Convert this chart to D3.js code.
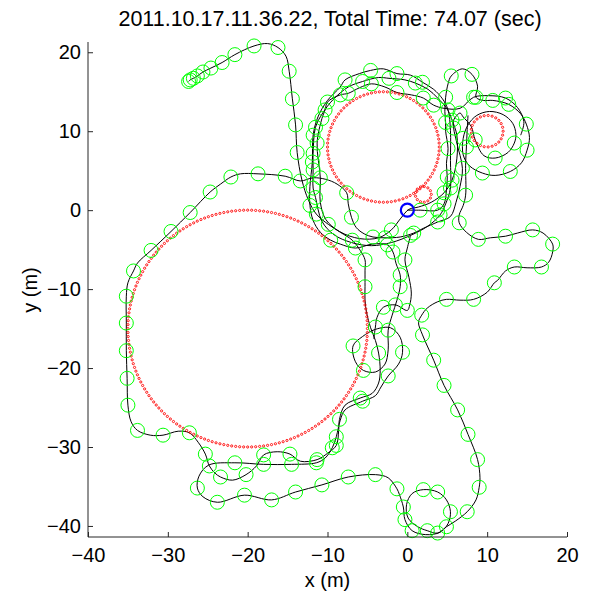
<!DOCTYPE html>
<html><head><meta charset="utf-8">
<script src="https://cdn.jsdelivr.net/npm/d3@7"></script>
<style>body{margin:0;background:#fff}svg{display:block}text{font-family:"Liberation Sans",Arial,Helvetica,sans-serif;fill:#000}</style>
</head><body>
<script>
const titleText = "2011.10.17.11.36.22, Total Time: 74.07 (sec)";
const xTicks = [-40,-30,-20,-10,0,10,20];
const yTicks = [-40,-30,-20,-10,0,10,20];
// red reference circles: [cx, cy, r]
const refCircles = [[-20,-15,15],[-3,8,7],[10,10,2],[2,2,1]];
const startPoint = [0,0];
// trajectory pieces: [x, y, marker(1 = green circle)]
const pathA = [
[0,0,0],[1.6,0,1],[3.8,0,1],[4.6,0.8,1],[4.9,2.5,0],[5.0,4.2,1],[4.9,5.9,0],[5.1,7.8,1],[4.8,10.0,0],[4.8,11.1,1],
[4.7,12.5,0],[4.8,14.3,1],[5.1,16.0,0],[5.5,17.0,1],[6.9,17.9,0],[8.1,17.2,1],[8.8,15.7,0],[8.6,14.3,1],[9.5,13.9,0],
[10.7,13.9,1],[12.7,13.4,1],[14.2,12.2,0],[14.9,10.9,1],[15.3,9.2,0],[15.0,7.6,1],[14.3,6.0,0],[12.9,4.9,1],[11.0,4.4,0],
[9.4,4.7,1],[7.8,5.6,0],[7.0,7.0,0],[7.0,9.1,1],[7.6,10.8,0],[8.7,12.0,0],[10.3,12.5,0],[12.0,12.1,0],[13.2,11.0,0],
[13.6,9.6,0],[13.4,8.5,1],[12.6,7.3,0],[11.0,6.6,1],[9.6,6.9,0],[8.5,8.9,1],[8.0,10.6,0],[7.0,11.8,0],[6.6,12.3,1],
[5.8,11.4,0],[5.8,10.4,1],[6.2,8.5,0],[6.9,5.3,1],[6.6,3.0,0],[6.1,1.0,0],[5.4,-0.8,0],[3.8,-1.5,1],[2.0,-2.3,0],
[0.8,-2.9,1],[-0.9,-3.4,0],[-2.8,-3.5,1],[-4.3,-3.4,1],[-5.4,-3.0,0],[-6.4,-2.2,0],[-7.0,-0.9,1],[-7.4,0.8,0],
[-7.6,2.2,1],[-8.8,3.3,0],[-10.2,3.9,0],[-11.8,4.1,0],[-13.4,3.7,1],[-15.3,4.3,1],[-18.7,4.6,1],[-20.9,4.6,0],
[-22.1,4.2,1],[-23.4,3.3,0],[-24.7,2.3,1],[-27.2,-0.3,1],[-29.6,-2.7,1],[-32.1,-5.1,1],[-33.8,-6.7,0],[-34.3,-7.7,1],
[-35.0,-9.2,0],[-35.2,-10.9,1],[-35.2,-14.3,1],[-35.2,-17.8,1],[-35.1,-21.3,1],[-35.0,-24.7,1],[-34.6,-26.8,0],
[-33.8,-27.9,1],[-32.2,-28.5,0],[-30.6,-28.5,1],[-28.7,-28.0,0],[-27.3,-28.2,1],[-26.2,-29.4,0],[-25.3,-30.9,1],
[-24.8,-32.4,1],[-24.1,-33.3,0],[-23.4,-33.8,1],[-21.9,-34.2,0],[-20.2,-33.5,1],[-18.9,-32.4,0],[-18.0,-31.0,1],
[-16.3,-30.6,0],[-14.7,-30.9,1],[-13.4,-31.8,0],[-11.3,-31.6,1],[-10.0,-30.8,0],[-8.9,-29.8,1],[-8.6,-27.9,0],
[-8.5,-26.5,1],[-7.8,-24.7,0],[-5.9,-23.8,1],[-4.4,-23.2,0],[-3.6,-21.9,0],[-3.4,-20.3,0],[-3.6,-18.1,1],
[-4.0,-16.5,0],[-4.6,-14.9,0],[-5.1,-13.0,0],[-5.3,-11.4,0],[-5.3,-9.7,1],[-5.3,-7.6,0],[-5.3,-6.3,1],[-5.9,-5.1,0],
[-6.9,-3.8,1],[-8.4,-2.8,0],[-9.9,-1.8,1],[-11.4,-0.5,1],[-12.4,1.3,0],[-13.2,3.8,0],[-13.8,7.3,1],[-14.0,10.8,1],
[-14.4,14.1,1],[-14.8,17.6,1],[-15.2,19.5,0],[-16.2,20.6,1],[-17.5,21.1,0],[-19.2,20.8,1],[-21.6,19.7,1],
[-23.2,18.7,1],[-24.6,18.0,1],[-25.6,17.5,1],[-26.3,17.0,1],[-26.8,16.7,1],[-27.2,16.5,1],[-27.4,16.3,1]
];
const pathB = [
[7.6,12.0,0],[7.5,10.2,0],[7.4,8.0,1],[7.3,5.7,0],[7.3,1.9,1],[7.0,0.6,0],[6.5,-0.6,0],[6.5,-1.6,1],[7.4,-2.8,0],
[8.9,-3.7,1],[10.4,-3.5,0],[12.3,-3.3,1],[13.8,-2.9,0],[15.7,-2.5,1],[17.0,-2.9,0],[18.2,-4.3,1],[18.2,-5.3,0],
[17.7,-6.6,0],[16.8,-7.2,1],[15.0,-7.3,0],[13.4,-7.2,1],[12.3,-7.7,0],[11.3,-8.9,0],[10.9,-9.2,1],[10.0,-10.4,0],
[8.3,-11.3,1],[6.6,-11.4,0],[4.9,-11.3,1],[3.8,-11.6,0],[2.5,-12.4,0],[1.8,-13.3,1],[1.4,-14.2,0],[1.9,-15.8,1],
[3.3,-19.0,1],[4.6,-22.2,1],[6.3,-25.3,1],[7.6,-28.4,1],[8.8,-31.6,1],[9.1,-33.9,0],[9.0,-35.1,1],[8.6,-36.7,0],
[7.5,-38.2,1],[6.0,-39.4,0],[4.9,-40.1,1],[3.8,-40.9,1],[2.5,-40.6,1],[1.3,-40.1,0],[0.1,-39.0,0],[-0.1,-37.3,0],
[0.6,-35.9,0],[2.0,-35.4,1],[3.8,-35.7,1],[4.9,-36.7,0],[5.4,-38.2,1],[5.1,-39.7,0],[4.1,-40.8,0],[2.3,-41.1,0],
[0.6,-40.6,1],[-0.3,-39.2,1],[-0.5,-37.6,1],[-1.0,-36.0,0],[-1.3,-35.3,1],[-2.4,-33.9,0],[-4.0,-33.5,1],
[-7.4,-33.8,1],[-10.7,-34.8,1],[-14.0,-35.7,1],[-17.0,-36.7,1],[-20.4,-36.1,1],[-23.8,-37.0,1],[-25.6,-36.3,0],
[-26.3,-35.2,1],[-26.1,-33.7,0],[-24.9,-32.3,0],[-21.6,-32.0,1],[-18.0,-32.2,1],[-14.5,-32.2,1],[-11.4,-32.0,1],
[-10.3,-31.4,0],[-9.4,-30.1,1],[-8.9,-28.7,1],[-8.4,-26.6,0],[-7.8,-25.3,0],[-5.6,-24.2,1],[-4.0,-23.5,0],
[-3.3,-22.4,0],[-2.4,-21.0,1],[-1.1,-19.5,0],[-0.6,-18.0,1],[-0.9,-16.1,0],[-2.1,-14.9,0],[-4.0,-15.1,0],
[-5.6,-16.0,0],[-6.8,-17.2,1],[-6.5,-19.2,0],[-5.5,-20.3,1],[-4.0,-20.5,0],[-2.8,-19.5,0],[-2.4,-17.7,0],
[-2.4,-15.2,1],[-1.9,-13.3,0],[-1.3,-11.4,0],[-0.9,-9.7,1],[-0.9,-8.2,1],[-1.4,-6.8,0],[-1.8,-5.3,1],[-2.5,-4.4,1],
[-4.4,-4.3,0],[-6.5,-4.8,1],[-8.4,-4.3,0],[-9.6,-3.8,1],[-10.9,-2.8,0],[-11.8,-1.3,0],
[-12.2,0.6,1],[-12.2,3.0,0],[-11.9,6.1,1],[-11.8,9.5,1],[-11.2,11.8,0],[-10.0,13.9,0],[-8.4,15.6,0],[-7.8,16.5,1],
[-6.0,17.3,0],[-4.6,17.7,1],[-3.0,17.9,0],[-1.3,17.3,1],[0.4,17.1,0],[1.9,16.2,1],[3.3,15.3,0],[4.4,14.1,0],
[5.1,12.7,1],[5.4,10.1,0],[5.4,6.3,0],[5.4,2.8,1],[4.8,0.8,0],[4.1,-0.6,1],[2.6,-2.0,0],[0.4,-3.2,1],[-2.0,-4.1,0],
[-4.5,-4.5,0],[-7.0,-4.1,0],[-9.2,-3.1,0],[-10.7,-1.4,0],[-11.5,1.6,1],[-11.8,2.8,1],[-11.8,5.1,1],[-11.8,7.2,1],
[-11.5,10.5,1],[-10.6,12.3,0],[-9.3,14.0,0],[-7.4,15.6,0],[-5.6,16.3,1],[-3.6,16.8,0],[-2.3,16.7,1],[-0.3,16.5,0],
[1.0,16.1,1],[2.6,15.3,0],[3.8,14.2,0],[5.0,12.8,0],[5.6,11.4,1],[6.2,9.5,0],[6.2,6.5,0],[5.6,3.8,1],[4.6,2.2,1],
[3.0,1.0,0],[1.4,0.4,0],[0.2,0.1,0],[-0.8,-1.0,0],[-2.0,-2.5,1],[-3.6,-3.5,0],[-6.0,-3.6,0],[-8.5,-2.7,0],
[-10.2,-1.2,0],[-10.9,1.0,0],[-10.9,4.1,1],[-11.3,8.5,1],[-10.7,11.6,1],[-10.3,12.7,1],[-10.0,13.7,1],[-8.4,14.6,1],
[-7.4,14.8,1],[-6.0,15.5,0],[-4.5,16.0,1],[-2.8,15.6,0],[-1.3,14.9,1],[0.5,14.6,0],[2.0,14.2,1],[3.3,13.3,1],
[4.6,12.9,0],[6.6,12.9,0],[8.3,14.3,1],[10.2,14.5,0],[12.3,14.2,1],[13.8,13.0,0],[14.6,11.2,0],[14.2,9.5,0]
];
const pathC = [
[0.4,-3.2,0],[0.0,-4.8,0],[-0.3,-6.3,1],[0.2,-8.5,0],[0.5,-10.5,0],[0.3,-12.0,0],[0.0,-12.7,1],[-1.5,-12.0,1],
[-3.0,-12.3,1],[-3.8,-13.6,0],[-4.0,-14.8,1],[-4.2,-16.3,0]
];
const paths = [pathA, pathB, pathC];

const W = 592, H = 596;
const svg = d3.select("body").append("svg").attr("width", W).attr("height", H);
const x = d3.scaleLinear().domain([-40, 20]).range([88, 567]);
const y = d3.scaleLinear().domain([-41.4, 21.3]).range([537, 42]);

const plot = svg.append("g");
const line = d3.line().x(d => x(d[0])).y(d => y(d[1])).curve(d3.curveCatmullRom.alpha(0.5));
plot.selectAll("path.traj").data(paths).enter().append("path")
  .attr("class", "traj").attr("d", line)
  .attr("fill", "none").attr("stroke", "#000").attr("stroke-width", 1);

// red dotted reference circles
refCircles.forEach(c => {
  const n = Math.round(2 * Math.PI * c[2] / 0.5);
  const pts = d3.range(n).map(i => [c[0] + c[2] * Math.cos(2 * Math.PI * i / n), c[1] + c[2] * Math.sin(2 * Math.PI * i / n)]);
  plot.append("g").selectAll("circle").data(pts).enter().append("circle")
    .attr("cx", d => x(d[0])).attr("cy", d => y(d[1])).attr("r", 1.1)
    .attr("fill", "none").attr("stroke", "#ff0000").attr("stroke-width", 0.9);
});

const markers = paths.flat().filter(d => d[2] === 1);
plot.append("g").selectAll("circle").data(markers).enter().append("circle")
  .attr("cx", d => x(d[0])).attr("cy", d => y(d[1])).attr("r", 7)
  .attr("fill", "none").attr("stroke", "#00ff00").attr("stroke-width", 1);

plot.append("circle").attr("cx", x(startPoint[0])).attr("cy", y(startPoint[1])).attr("r", 6.5)
  .attr("fill", "none").attr("stroke", "#0000ff").attr("stroke-width", 2.2);

// axes
const axColor = "#262626";
const fmt = d => d < 0 ? "\u2212" + Math.abs(d) : d;
const xAxis = svg.append("g").attr("transform", "translate(0,537)")
  .call(d3.axisBottom(x).tickValues(xTicks).tickSize(-5).tickPadding(11).tickFormat(fmt));
const yAxis = svg.append("g").attr("transform", "translate(88,0)")
  .call(d3.axisLeft(y).tickValues(yTicks).tickSize(-5).tickPadding(7).tickFormat(fmt));
[xAxis, yAxis].forEach(a => {
  a.selectAll(".tick line").attr("stroke", axColor);
  a.selectAll(".tick text").attr("font-size", 20).attr("font-family", '"Liberation Sans",Arial,sans-serif').attr("fill", "#000");
});
xAxis.select(".domain").attr("stroke", axColor).attr("d", "M88,0H567");
yAxis.select(".domain").attr("stroke", axColor).attr("d", "M0,42V537");

svg.append("text").attr("x", 330).attr("y", 26).attr("text-anchor", "middle").attr("font-size", 21.5).text(titleText);
svg.append("text").attr("x", 327.5).attr("y", 587).attr("text-anchor", "middle").attr("font-size", 20).text("x (m)");
svg.append("text").attr("transform", "translate(37,290) rotate(-90)").attr("text-anchor", "middle").attr("font-size", 20).text("y (m)");
</script>
</body></html>
